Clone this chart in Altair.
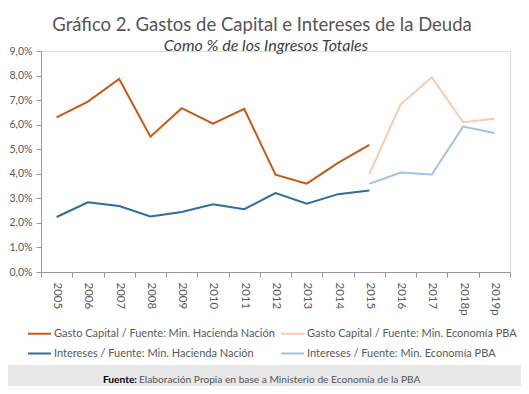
import altair as alt
import pandas as pd

years = ["2005", "2006", "2007", "2008", "2009", "2010", "2011", "2012",
         "2013", "2014", "2015", "2016", "2017", "2018p", "2019p"]

gasto_nacion = [6.30, 6.94, 7.86, 5.51, 6.67, 6.04, 6.64, 3.96, 3.60, 4.44, 5.18]
gasto_pba = [3.99, 6.82, 7.93, 6.10, 6.24]
intereses_nacion = [2.24, 2.84, 2.69, 2.26, 2.44, 2.76, 2.56, 3.21, 2.78, 3.17, 3.32]
intereses_pba = [3.59, 4.05, 3.97, 5.92, 5.66]

series_names = [
    "Gasto Capital / Fuente: Min. Hacienda Nación",
    "Intereses / Fuente: Min. Hacienda Nación",
    "Gasto Capital / Fuente: Min. Economía PBA",
    "Intereses / Fuente: Min. Economía PBA",
]
series_colors = ["#C55A11", "#2E6DA4", "#F8CBAD", "#9DC3E6"]

title_text = "Gráfico 2. Gastos de Capital e Intereses de la Deuda"
subtitle_text = "Como % de los Ingresos Totales"
footer_bold = "Fuente:"
footer_text = "Elaboración Propia en base a Ministerio de Economía de la PBA"

rows = []
for y, v in zip(years[:11], gasto_nacion):
    rows.append({"year": y, "value": v, "series": series_names[0]})
for y, v in zip(years[10:], gasto_pba):
    rows.append({"year": y, "value": v, "series": series_names[2]})
for y, v in zip(years[:11], intereses_nacion):
    rows.append({"year": y, "value": v, "series": series_names[1]})
for y, v in zip(years[10:], intereses_pba):
    rows.append({"year": y, "value": v, "series": series_names[3]})
df = pd.DataFrame(rows)

FONT = "Lato"
GREY = "#595959"

lines = alt.Chart(df).mark_line(strokeWidth=2).encode(
    x=alt.X("year:O", sort=years, title=None,
            scale=alt.Scale(type="band", domain=years, paddingInner=0, paddingOuter=0),
            axis=alt.Axis(labelAngle=90, labelFontSize=11.5, labelColor=GREY, labelFont=FONT,
                          tickBand="extent", tickSize=5, tickColor="#999999",
                          domainColor="#999999", labelPadding=5, grid=False)),
    y=alt.Y("value:Q", title=None,
            scale=alt.Scale(domain=[0, 9], nice=False),
            axis=alt.Axis(values=[0, 1, 2, 3, 4, 5, 6, 7, 8, 9],
                          labelExpr="replace(format(datum.value, '.1f'), '.', ',') + '%'",
                          labelFontSize=10.5, labelColor=GREY, labelFont=FONT,
                          tickSize=5, tickColor="#999999", domainColor="#999999",
                          labelPadding=4, grid=False)),
    color=alt.Color("series:N", sort=series_names,
                    scale=alt.Scale(domain=series_names, range=series_colors),
                    legend=alt.Legend(title=None, orient="none", legendX=-14, legendY=270,
                                      columns=2, columnPadding=2, rowPadding=2,
                                      symbolType="stroke", symbolSize=529, symbolStrokeWidth=2,
                                      labelFontSize=11, labelColor=GREY, labelFont=FONT,
                                      labelOffset=2, labelLimit=400)),
    detail="series:N",
)

title_df = pd.DataFrame({"t": [title_text]})
title = alt.Chart(title_df).mark_text(fontSize=18.5, font=FONT, color="#555555",
                                      align="center", baseline="alphabetic").encode(
    x=alt.value(221), y=alt.value(-20), text="t:N")

sub_df = pd.DataFrame({"t": [subtitle_text]})
subtitle = alt.Chart(sub_df).mark_text(fontSize=16, font=FONT, fontStyle="italic", color="#404040",
                                       align="center", baseline="alphabetic").encode(
    x=alt.value(225), y=alt.value(0), text="t:N")

band_df = pd.DataFrame({"k": [1]})
band = alt.Chart(band_df).mark_rect(color="#E8E8E8").encode(
    x=alt.value(-33), x2=alt.value(480), y=alt.value(314), y2=alt.value(340))

fb_df = pd.DataFrame({"t": [footer_bold]})
fbold = alt.Chart(fb_df).mark_text(fontSize=10.2, font=FONT, fontWeight="bold", color="#000000",
                                   align="right", baseline="alphabetic").encode(
    x=alt.value(96), y=alt.value(332), text="t:N")

ft_df = pd.DataFrame({"t": [footer_text]})
ftext = alt.Chart(ft_df).mark_text(fontSize=10.2, font=FONT, color="#555555",
                                   align="left", baseline="alphabetic").encode(
    x=alt.value(98), y=alt.value(332), text="t:N")

chart = alt.layer(band, lines, title, subtitle, fbold, ftext).properties(
    width=469, height=221,
    autosize=alt.AutoSizeParams(type="none"),
    padding={"left": 33, "top": 43, "right": 11, "bottom": 114},
).configure_view(stroke=None).configure(background="white")

chart.save("out.html", embed_options={"renderer": "svg", "actions": False})
